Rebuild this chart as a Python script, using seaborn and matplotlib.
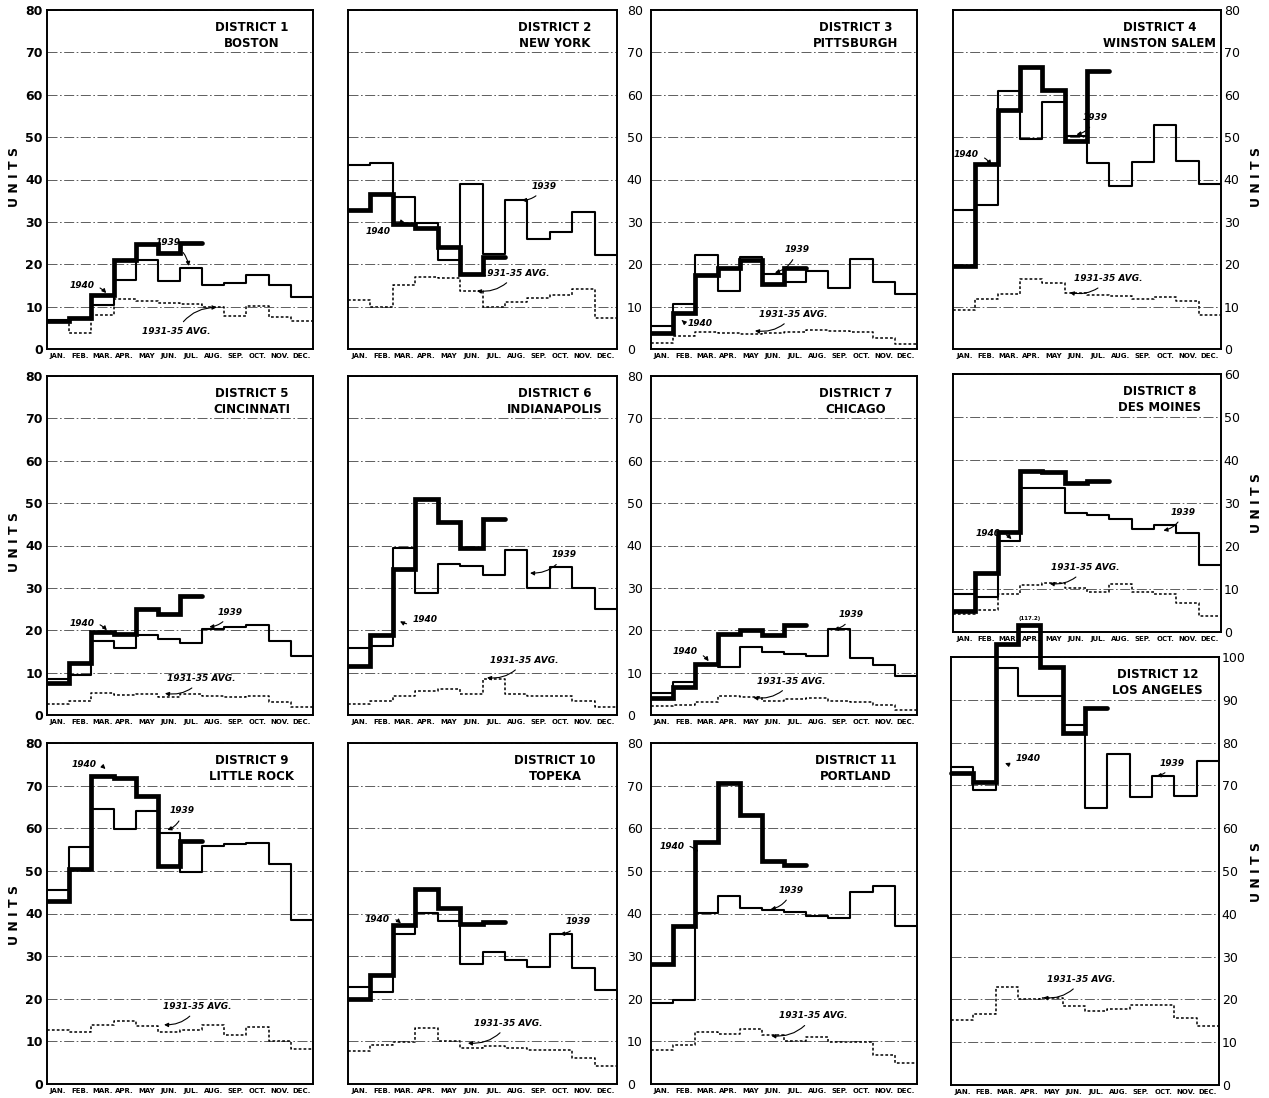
import numpy as np
import pandas as pd
import matplotlib
matplotlib.use("Agg")
import matplotlib.pyplot as plt
import seaborn as sns

months = ["JAN.", "FEB.", "MAR.", "APR.", "MAY", "JUN.", "JUL.", "AUG.", "SEP.", "OCT.", "NOV.", "DEC."]

# units per month (1940 only runs through July)
d1_1939 = [6.8, 7.0, 10.3, 16.2, 21.0, 16.1, 19.0, 15.1, 15.5, 17.4, 15.1, 12.3]
d1_1940 = [6.7, 7.2, 12.7, 21.0, 24.7, 22.6, 25.0]
d1_avg = [6.7, 3.7, 8.0, 11.8, 11.4, 10.9, 10.6, 10.0, 7.8, 10.2, 7.6, 6.5]

d2_1939 = [43.5, 43.9, 35.8, 29.8, 20.9, 38.9, 22.4, 35.1, 25.9, 27.5, 32.4, 22.1]
d2_1940 = [32.9, 36.5, 29.4, 28.6, 24.1, 17.8, 21.6]
d2_avg = [11.6, 10.0, 15.1, 16.9, 16.7, 13.7, 9.8, 11.1, 12.0, 12.8, 14.1, 7.3]

d3_1939 = [5.5, 10.7, 22.2, 13.7, 21.8, 17.6, 15.9, 18.4, 14.4, 21.3, 15.7, 12.9]
d3_1940 = [3.8, 8.6, 17.4, 19.2, 20.9, 15.3, 19.2]
d3_avg = [1.4, 3.1, 4.1, 3.8, 3.5, 3.8, 3.9, 4.5, 4.3, 4.1, 2.5, 1.2]

d4_1939 = [32.9, 34.1, 60.8, 49.6, 58.4, 50.2, 43.9, 38.4, 44.2, 52.9, 44.3, 39.0]
d4_1940 = [19.5, 43.7, 56.5, 66.5, 61.2, 49.0, 65.5]
d4_avg = [9.2, 11.9, 12.9, 16.6, 15.5, 13.1, 12.7, 12.4, 11.7, 12.2, 11.3, 8.0]

d5_1939 = [8.6, 9.4, 17.4, 15.7, 18.8, 17.9, 17.1, 20.4, 20.8, 21.3, 17.4, 14.0]
d5_1940 = [7.5, 12.3, 19.6, 19.2, 24.9, 23.9, 28.2]
d5_avg = [2.5, 3.3, 5.3, 4.7, 4.9, 4.3, 4.9, 4.5, 4.2, 4.5, 3.0, 2.0]

d6_1939 = [15.8, 16.2, 39.4, 28.9, 35.7, 35.1, 33.1, 39.0, 30.0, 34.9, 30.0, 25.1]
d6_1940 = [11.6, 18.8, 34.5, 51.0, 45.5, 39.4, 46.3]
d6_avg = [2.5, 3.3, 4.5, 5.7, 6.1, 4.9, 8.6, 4.9, 4.5, 4.5, 3.3, 1.9]

d7_1939 = [5.1, 7.9, 11.8, 11.4, 16.0, 14.9, 14.5, 13.9, 20.3, 13.4, 11.7, 9.2]
d7_1940 = [4.1, 6.6, 12.0, 19.1, 20.0, 18.8, 21.3]
d7_avg = [2.2, 2.4, 3.0, 4.5, 4.3, 3.4, 3.75, 4.0, 3.4, 3.0, 2.4, 1.2]

d8_1939 = [8.9, 8.1, 21.1, 33.6, 33.4, 27.7, 27.1, 26.3, 24.0, 24.8, 23.0, 15.6]
d8_1940 = [5.0, 13.8, 23.2, 37.5, 37.1, 34.7, 35.2]
d8_avg = [4.1, 5.2, 8.8, 10.9, 11.5, 10.3, 9.3, 11.1, 9.3, 8.8, 6.8, 3.8]

d9_1939 = [45.5, 55.5, 64.5, 59.9, 64.1, 59.0, 49.8, 55.9, 56.2, 56.6, 51.6, 38.4]
d9_1940 = [43.0, 50.4, 72.3, 71.9, 67.6, 51.2, 57.0]
d9_avg = [12.6, 12.1, 13.9, 14.7, 13.7, 12.2, 12.7, 13.9, 11.6, 13.3, 10.2, 8.3]

d10_1939 = [22.7, 21.7, 35.2, 40.2, 38.3, 28.1, 30.9, 29.0, 27.4, 35.2, 27.2, 22.0]
d10_1940 = [20.0, 25.6, 37.2, 45.7, 41.3, 37.5, 38.1]
d10_avg = [7.7, 9.2, 9.8, 13.1, 10.2, 8.4, 8.8, 8.4, 8.0, 8.0, 6.1, 4.3]

d11_1939 = [19.1, 19.6, 40.1, 44.2, 41.3, 40.9, 40.3, 39.5, 38.9, 45.0, 46.5, 37.0]
d11_1940 = [28.1, 37.0, 56.7, 70.7, 63.1, 52.2, 51.3]
d11_avg = [7.9, 9.2, 12.3, 11.7, 12.9, 11.6, 10.2, 11.0, 9.8, 9.8, 6.9, 4.9]

d12_1939 = [74.2, 68.9, 97.4, 90.9, 90.9, 84.0, 64.8, 77.3, 67.3, 72.2, 67.5, 75.7]
d12_1940 = [72.8, 70.9, 103.0, 107.5, 97.7, 82.2, 88.2]  # April runs off the scale
d12_avg = [15.1, 16.5, 22.9, 20.2, 20.4, 18.5, 17.3, 17.8, 18.6, 18.6, 15.6, 13.9]
d12_apr_note = "(117.2)"

titles = ["DISTRICT 1\nBOSTON", "DISTRICT 2\nNEW YORK", "DISTRICT 3\nPITTSBURGH",
          "DISTRICT 4\nWINSTON SALEM", "DISTRICT 5\nCINCINNATI", "DISTRICT 6\nINDIANAPOLIS",
          "DISTRICT 7\nCHICAGO", "DISTRICT 8\nDES MOINES", "DISTRICT 9\nLITTLE ROCK",
          "DISTRICT 10\nTOPEKA", "DISTRICT 11\nPORTLAND", "DISTRICT 12\nLOS ANGELES"]

W, H = 1269, 1098


def box(x0, x1, y0, y1):
    return [x0 / W, 1 - y1 / H, (x1 - x0) / W, (y1 - y0) / H]


def steps(vals):
    n = len(vals)
    return pd.DataFrame({"month": np.arange(n + 1), "units": list(vals) + [vals[-1]]})


# box, y max, side of tick labels, series, notes (text pos, arrow target)
panels = [
    (box(47, 313, 10, 349), 80, "left", d1_1939, d1_1940, d1_avg,
     [(1.57, 14.9, 2.67, 13.2), (5.47, 25.1, 6.4, 19.6), (5.85, 4.1, 7.65, 9.8)]),
    (box(348, 617, 10, 349), 80, "right", d2_1939, d2_1940, d2_avg,
     [(1.34, 27.8, 2.54, 29.8), (8.73, 38.4, 7.76, 35.1), (7.46, 17.9, 5.75, 13.7)]),
    (box(651, 917, 10, 349), 80, None, d3_1939, d3_1940, d3_avg,
     [(2.22, 6.0, 1.39, 6.8), (6.57, 23.5, 5.59, 18.0), (6.42, 8.2, 4.69, 4.3)]),
    (box(953, 1221, 10, 349), 80, "right", d4_1939, d4_1940, d4_avg,
     [(0.6, 45.9, 1.72, 43.5), (6.35, 54.7, 5.53, 50.6), (6.95, 16.6, 5.23, 13.3)]),
    (box(47, 313, 376, 715), 80, "left", d5_1939, d5_1940, d5_avg,
     [(1.57, 21.7, 2.7, 20.0), (8.25, 24.3, 7.32, 20.8), (6.97, 8.6, 5.32, 5.1)]),
    (box(348, 617, 376, 715), 80, "right", d6_1939, d6_1940, d6_avg,
     [(3.44, 22.5, 2.32, 22.1), (9.64, 37.8, 8.12, 33.5), (7.85, 12.9, 6.2, 8.8)]),
    (box(651, 917, 376, 715), 80, None, d7_1939, d7_1940, d7_avg,
     [(1.54, 14.9, 2.6, 12.7), (9.04, 23.7, 8.25, 20.2), (6.34, 8.0, 4.62, 4.1)]),
    (box(953, 1221, 374, 632), 60, "right", d8_1939, d8_1940, d8_avg,
     [(1.57, 23.0, 2.62, 21.6), (10.3, 27.9, 9.42, 23.6), (5.9, 15.0, 4.33, 11.25)]),
    (box(47, 313, 743, 1084), 80, "left", d9_1939, d9_1940, d9_avg,
     [(1.66, 75.0, 2.64, 73.9), (6.11, 64.1, 5.43, 59.6), (6.79, 18.2, 5.28, 13.9)]),
    (box(348, 617, 743, 1084), 80, "right", d10_1939, d10_1940, d10_avg,
     [(1.32, 38.7, 2.36, 37.7), (10.28, 38.1, 9.46, 35.2), (7.14, 14.3, 5.35, 9.6)]),
    (box(651, 917, 743, 1084), 80, None, d11_1939, d11_1940, d11_avg,
     [(0.93, 55.7, 2.13, 54.5), (6.33, 45.5, 5.4, 41.0), (7.3, 16.0, 5.43, 11.3)]),
    (box(951, 1219, 657, 1085), 100, "right", d12_1939, d12_1940, d12_avg,
     [(3.46, 76.2, 2.42, 75.2), (9.88, 75.2, 9.21, 72.2), (5.85, 24.7, 4.13, 20.4)]),
]

sns.set_style("white")
plt.rcParams["font.family"] = ["DejaVu Sans"]
plt.rcParams["text.color"] = "black"
plt.rcParams["xtick.color"] = "black"
plt.rcParams["ytick.color"] = "black"

fig = plt.figure(figsize=(W / 100, H / 100), dpi=100)

for i, (pos, ymax, side, s39, s40, savg, notes) in enumerate(panels):
    ax = fig.add_axes(pos)
    clip = i != 11
    sns.lineplot(data=steps(savg), x="month", y="units", ax=ax, drawstyle="steps-post",
                 color="black", lw=1.1, linestyle=(0, (1.8, 1.4)), legend=False, clip_on=clip)
    sns.lineplot(data=steps(s39), x="month", y="units", ax=ax, drawstyle="steps-post",
                 color="black", lw=1.5, legend=False, clip_on=clip)
    sns.lineplot(data=steps(s40), x="month", y="units", ax=ax, drawstyle="steps-post",
                 color="black", lw=3.4, legend=False, clip_on=clip, solid_joinstyle="miter")
    ax.set_xlim(0, 12)
    ax.set_ylim(0, ymax)
    ax.set_xlabel("")
    ax.set_ylabel("")
    ax.set_xticks(np.arange(12) + 0.5)
    ax.set_xticklabels(months, fontsize=5, fontweight="bold")
    ax.set_yticks(np.arange(0, ymax + 1, 10))
    ax.grid(axis="y", color="#444444", lw=0.6, linestyle=(0, (12, 3, 2, 3)))
    ax.tick_params(length=0, axis="x", pad=3)
    ax.tick_params(length=0, axis="y", labelsize=9)
    for lab in ax.get_yticklabels():
        lab.set_fontweight("bold")
    if side == "left":
        ax.tick_params(axis="y", pad=3)
    elif side == "right":
        ax.yaxis.tick_right()
        ax.tick_params(axis="y", pad=7 if i in (1, 5, 9) else 2, length=0)
    else:
        ax.tick_params(axis="y", labelleft=False, labelright=False)
    for sp in ax.spines.values():
        sp.set_linewidth(1.4)
        sp.set_color("black")

    ax.annotate(titles[i], xy=(0.77, 1), xycoords="axes fraction", xytext=(0, -8),
                textcoords="offset points", ha="center", va="top", fontsize=8.5,
                fontweight="bold", linespacing=1.25)

    for label, (tx, ty, axx, ayy) in zip(["1940", "1939", "1931-35 AVG."], notes):
        ax.annotate(label, xy=(axx, ayy), xytext=(tx, ty), ha="center", va="center",
                    fontsize=6.5, fontstyle="italic", fontweight="bold", annotation_clip=False,
                    arrowprops=dict(arrowstyle="-|>", connectionstyle="arc3,rad=-0.3",
                                    lw=0.8, color="black", shrinkA=2, shrinkB=0,
                                    mutation_scale=6))
    if i == 11:
        ax.text(3.5, s40[3] + 0.8, d12_apr_note, fontsize=4, fontweight="bold",
                ha="center", va="bottom", clip_on=False)

units = "U N I T S"
for (x, y) in [(15, 177), (15, 542), (15, 915), (1257, 177), (1257, 503), (1257, 872)]:
    fig.text(x / W, 1 - y / H, units, rotation=90, ha="center", va="center",
             fontsize=9, fontweight="bold")

fig.savefig("out.png", dpi=100, facecolor="white")
